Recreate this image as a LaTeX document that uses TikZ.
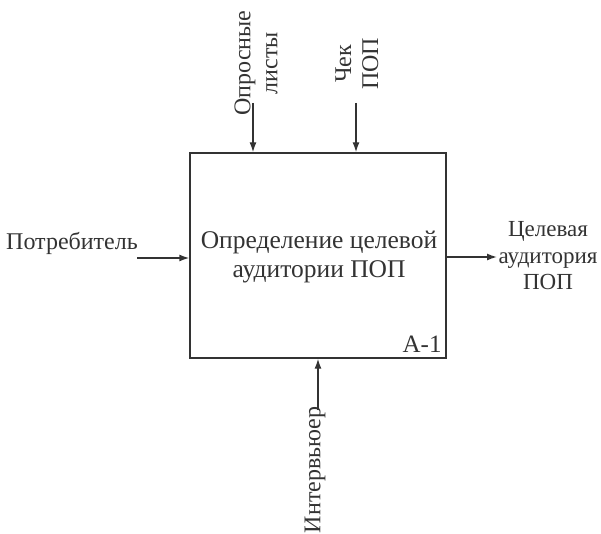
\documentclass[tikz,border=0pt]{standalone}
\usepackage{fontspec}
\setmainfont{Liberation Serif}
\usepackage{tikz}
\usetikzlibrary{arrows.meta}
\definecolor{idefgray}{RGB}{51, 51, 51}

\begin{document}
\begin{tikzpicture}[x=1pt, y=-1pt, font=\fontsize{24}{27}\selectfont, text=idefgray]
    % Define styles
    \tikzstyle{block} = [rectangle, draw=idefgray, line width=1.4pt, minimum width=256pt, minimum height=205pt, inner sep=0pt]
    \tikzstyle{label} = [align=center, inner sep=0pt]
    \tikzstyle{line} = [draw=idefgray, line width=1.4pt, -{Latex[length=10pt, width=7pt]}]

    \useasboundingbox (0,0) rectangle (601,534);

    % Nodes
    \node [block] (act) at (318,255.5) {};
    \node [label, font=\fontsize{25.5}{29}\selectfont] (title) at (319,257.5) {Определение целевой\\аудитории ПОП};
    \node [label, anchor=south east, font=\fontsize{25}{27}\selectfont] (num) at ([xshift=-5pt, yshift=6pt]act.south east) {A-1};

    \node [label] (cons) at (72,243) {Потребитель};
    \node [label, rotate=90] (lists) at (256,63) {Опросные\\листы};
    \node [label, rotate=90] (check) at (357,64) {Чек\\ПОП};
    \node [label, font=\fontsize{23}{26.5}\selectfont] (target) at (548,256) {Целевая\\аудитория\\ПОП};
    \node [label, rotate=90] (interv) at (315,470) {Интервьюер};

    % Free ends
    \coordinate (in1) at (137,258);
    \coordinate (ctl1) at (253,103);
    \coordinate (ctl2) at (356,103);
    \coordinate (out1) at (497,257);
    \coordinate (mech1) at (318,410);

    % Connections
    \path [line] (in1) -- (in1 -| act.west);
    \path [line] (ctl1) -- (ctl1 |- act.north);
    \path [line] (ctl2) -- (ctl2 |- act.north);
    \path [line] (out1 -| act.east) -- (out1);
    \path [line] (mech1) -- (mech1 |- act.south);
\end{tikzpicture}
\end{document}
